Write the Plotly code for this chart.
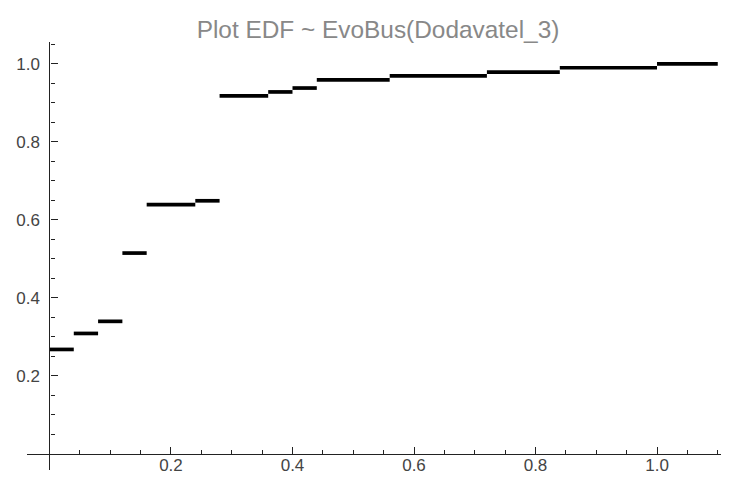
import plotly.graph_objects as go

# Empirical distribution function: step breakpoints and EDF levels
edges = [0.0, 0.04, 0.08, 0.12, 0.16, 0.24, 0.28, 0.36, 0.40, 0.44, 0.56, 0.72, 0.84, 1.00, 1.10]
edf = [0.268, 0.309, 0.340, 0.515, 0.639, 0.649, 0.918, 0.928, 0.938, 0.959, 0.969, 0.979, 0.990, 1.000]

x_ticks = [0.2, 0.4, 0.6, 0.8, 1.0]
y_ticks = [0.2, 0.4, 0.6, 0.8, 1.0]
title = "Plot EDF ~ EvoBus(Dodavatel_3)"

# build horizontal segments (no vertical risers)
xs, ys = [], []
for i, v in enumerate(edf):
    xs += [edges[i], edges[i + 1], None]
    ys += [v, v, None]

fig = go.Figure()
fig.add_trace(go.Scatter(x=xs, y=ys, mode="lines",
                         line=dict(color="black", width=3.7),
                         hoverinfo="skip", showlegend=False))

xr = [-0.037, 1.1185]
yr = [-0.041, 1.056]
xpos = (0 - yr[0]) / (yr[1] - yr[0])
ypos = (0 - xr[0]) / (xr[1] - xr[0])

tickfont = dict(family="Liberation Sans, Arial, sans-serif", size=17, color="#444444")
axcol = "#222222"

W, H = 721, 477  # page body has an 8px default margin
fig.update_layout(
    width=W, height=H,
    margin=dict(l=19, r=0, t=34, b=15),
    paper_bgcolor="white", plot_bgcolor="white",
    title=dict(text=title, x=0.5, xref="paper", xanchor="center",
               y=1 - 21 / H, yref="container", yanchor="middle",
               font=dict(family="Liberation Sans, Arial, sans-serif", size=24.4, color="#888888")),
    xaxis=dict(range=xr, anchor="free", position=xpos, showgrid=False, zeroline=False,
               showline=True, linecolor=axcol, linewidth=1.3,
               tickmode="array", tickvals=x_ticks, ticktext=[f"{v:.1f}" for v in x_ticks],
               ticks="inside", ticklen=7, tickwidth=1.2, tickcolor=axcol,
               tickfont=tickfont, automargin=False, ticklabelstandoff=-5,
               minor=dict(tickmode="linear", tick0=0, dtick=0.05, ticks="inside",
                          ticklen=4, tickwidth=1.2, tickcolor=axcol, showgrid=False)),
    yaxis=dict(range=yr, anchor="free", position=ypos, showgrid=False, zeroline=False,
               showline=True, linecolor=axcol, linewidth=1.3,
               tickmode="array", tickvals=y_ticks, ticktext=[f"{v:.1f}" for v in y_ticks],
               ticks="inside", ticklen=7, tickwidth=1.2, tickcolor=axcol,
               tickfont=tickfont, automargin=False, ticklabelstandoff=6,
               minor=dict(tickmode="linear", tick0=0, dtick=0.05, ticks="inside",
                          ticklen=4, tickwidth=1.2, tickcolor=axcol, showgrid=False)),
)

fig.write_html("out.html")
